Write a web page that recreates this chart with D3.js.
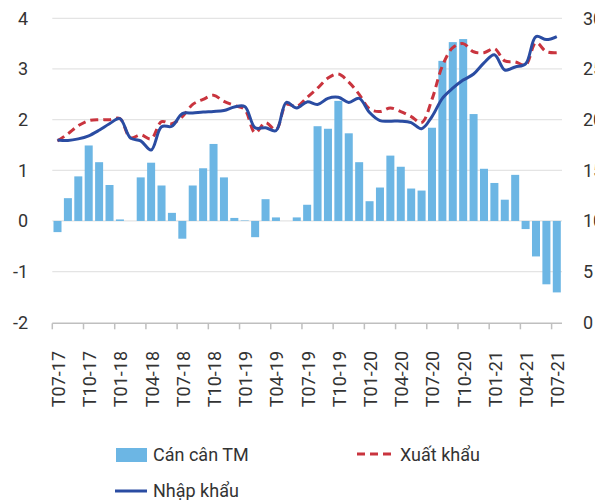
<!DOCTYPE html>
<html lang="vi">
<head>
    <meta charset="utf-8">
    <title>Cán cân thương mại</title>
    <style>
        body { margin: 0; padding: 0; background: #fff; }
        svg { display: block; font-family: Roboto, "Noto Sans", Arial, sans-serif; }
        .lbl { font-size: 18px; fill: #333; }
    </style>
</head>
<body>
<div id="chart"></div>

<script src="https://d3js.org/d3.v7.min.js"></script>
<script>
  // Months T07-17 .. T07-21
  const months = [
    "T07-17","T08-17","T09-17","T10-17","T11-17","T12-17",
    "T01-18","T02-18","T03-18","T04-18","T05-18","T06-18",
    "T07-18","T08-18","T09-18","T10-18","T11-18","T12-18",
    "T01-19","T02-19","T03-19","T04-19","T05-19","T06-19",
    "T07-19","T08-19","T09-19","T10-19","T11-19","T12-19",
    "T01-20","T02-20","T03-20","T04-20","T05-20","T06-20",
    "T07-20","T08-20","T09-20","T10-20","T11-20","T12-20",
    "T01-21","T02-21","T03-21","T04-21","T05-21","T06-21",
    "T07-21"
  ];

  // Cán cân TM (left axis)
  const balance = [
    -0.22, 0.45, 0.88, 1.49, 1.16, 0.71, 0.03, 0.0, 0.86, 1.15, 0.70, 0.16,
    -0.35, 0.70, 1.04, 1.52, 0.86, 0.06, 0.01, -0.32, 0.43, 0.07, 0.0, 0.07,
    0.32, 1.87, 1.82, 2.37, 1.73, 1.16, 0.39, 0.66, 1.29, 1.07, 0.64, 0.60,
    1.84, 3.16, 3.53, 3.59, 2.11, 1.03, 0.75, 0.42, 0.91, -0.16, -0.70, -1.25,
    -1.41
  ];

  // Xuất khẩu (right axis)
  const exportsV = [
    17.9, 18.6, 19.4, 19.9, 20.0, 20.0, 20.1, 18.2, 18.5, 18.1, 19.8, 19.6,
    20.3, 21.5, 22.0, 22.4, 21.8, 21.4, 21.0, 18.7, 19.7, 19.0, 21.5, 21.3,
    22.2, 23.1, 24.1, 24.5, 23.7, 22.5, 21.05, 20.8, 21.15, 20.8, 20.3, 19.7,
    22.0, 25.3, 27.1, 27.5, 26.7, 26.6, 27.0, 25.8, 25.7, 25.4, 27.6, 26.7,
    26.6
  ];

  // Nhập khẩu (right axis)
  const importsV = [
    18.0, 17.95, 18.1, 18.4, 18.95, 19.6, 20.1, 18.2, 17.9, 17.0, 19.3, 19.35,
    20.6, 20.65, 20.75, 20.8, 20.9, 21.25, 21.3, 19.2, 19.2, 18.9, 21.7, 21.15,
    21.75, 21.5, 22.1, 22.2, 21.7, 22.1, 20.7, 19.9, 19.85, 19.85, 19.7, 19.1,
    20.3, 22.1, 23.1, 23.9, 24.5, 25.6, 26.4, 24.9, 25.2, 25.5, 28.2, 27.9,
    28.2
  ];

  const leftTicks = [-2, -1, 0, 1, 2, 3, 4];
  const rightTicks = [0, 5, 10, 15, 20, 25, 30];

  const width = 595, height = 500;
  const plotL = 52.3, plotR = 562, plotT = 18.3, plotB = 322.3;

  const svg = d3.select("#chart").append("svg")
    .attr("width", width)
    .attr("height", height);

  const x = d3.scaleBand().domain(months).range([plotL, plotR]).paddingInner(0.23).paddingOuter(0.115);
  const step = x.step();
  const yL = d3.scaleLinear().domain([-2, 4]).range([plotB, plotT]);
  const yR = d3.scaleLinear().domain([0, 30]).range([plotB, plotT]);

  // gridlines
  svg.append("g").selectAll("line")
    .data(leftTicks.filter(d => d > -2))
    .join("line")
    .attr("x1", plotL).attr("x2", plotR)
    .attr("y1", d => yL(d)).attr("y2", d => yL(d))
    .attr("stroke", "#e4e4e4").attr("stroke-width", 1.2);

  // left labels
  svg.append("g").selectAll("text")
    .data(leftTicks)
    .join("text")
    .attr("class", "lbl")
    .attr("x", 28).attr("y", d => yL(d))
    .attr("dy", "0.36em")
    .attr("text-anchor", "end")
    .text(d => d);

  // right labels (clipped at the page edge as in the original)
  svg.append("g").selectAll("text")
    .data(rightTicks)
    .join("text")
    .attr("class", "lbl")
    .attr("x", 583).attr("y", d => yR(d))
    .attr("dy", "0.36em")
    .attr("text-anchor", "start")
    .text(d => d);

  // bars
  svg.append("g").selectAll("rect")
    .data(balance)
    .join("rect")
    .attr("x", (d, i) => x(months[i]))
    .attr("width", x.bandwidth())
    .attr("y", d => Math.min(yL(0), yL(d)))
    .attr("height", d => Math.abs(yL(d) - yL(0)))
    .attr("fill", "#6cb6e4");

  // x axis
  const ax = svg.append("g");
  ax.append("line")
    .attr("x1", plotL).attr("x2", plotR)
    .attr("y1", plotB + 1).attr("y2", plotB + 1)
    .attr("stroke", "#bfbfbf").attr("stroke-width", 1.5);

  const tickIdx = d3.range(0, months.length, 3);
  ax.selectAll(".tk")
    .data(tickIdx)
    .join("line")
    .attr("x1", i => plotL + i * step).attr("x2", i => plotL + i * step)
    .attr("y1", plotB + 1).attr("y2", plotB + 7)
    .attr("stroke", "#bfbfbf").attr("stroke-width", 1.5);

  ax.selectAll("text")
    .data(tickIdx)
    .join("text")
    .attr("class", "lbl")
    .attr("transform", i => `translate(${x(months[i]) + x.bandwidth() / 2 + 1},351) rotate(-90)`)
    .attr("dy", "0.36em")
    .attr("text-anchor", "end")
    .text(i => months[i]);

  // lines
  const cx = i => x(months[i]) + x.bandwidth() / 2;
  const line = d3.line()
    .x((d, i) => cx(i))
    .y(d => yR(d))
    .curve(d3.curveCatmullRom.alpha(0.5));

  svg.append("path")
    .attr("d", line(exportsV))
    .attr("fill", "none")
    .attr("stroke", "#c9343e")
    .attr("stroke-width", 3)
    .attr("stroke-dasharray", "8,5");

  svg.append("path")
    .attr("d", line(importsV))
    .attr("fill", "none")
    .attr("stroke", "#2a4ca2")
    .attr("stroke-width", 3);

  // legend
  const lg = svg.append("g");
  lg.append("rect")
    .attr("x", 116).attr("y", 448).attr("width", 31).attr("height", 14)
    .attr("fill", "#6cb6e4");
  lg.append("text").attr("class", "lbl")
    .attr("x", 153).attr("y", 455).attr("dy", "0.36em")
    .text("Cán cân TM");

  lg.append("line")
    .attr("x1", 357).attr("x2", 391).attr("y1", 454).attr("y2", 454)
    .attr("stroke", "#c9343e").attr("stroke-width", 3)
    .attr("stroke-dasharray", "8,5");
  lg.append("text").attr("class", "lbl")
    .attr("x", 400).attr("y", 455).attr("dy", "0.36em")
    .text("Xuất khẩu");

  lg.append("line")
    .attr("x1", 115).attr("x2", 147).attr("y1", 491).attr("y2", 491)
    .attr("stroke", "#2a4ca2").attr("stroke-width", 3);
  lg.append("text").attr("class", "lbl")
    .attr("x", 153).attr("y", 491).attr("dy", "0.36em")
    .text("Nhập khẩu");
</script>
</body>
</html>
